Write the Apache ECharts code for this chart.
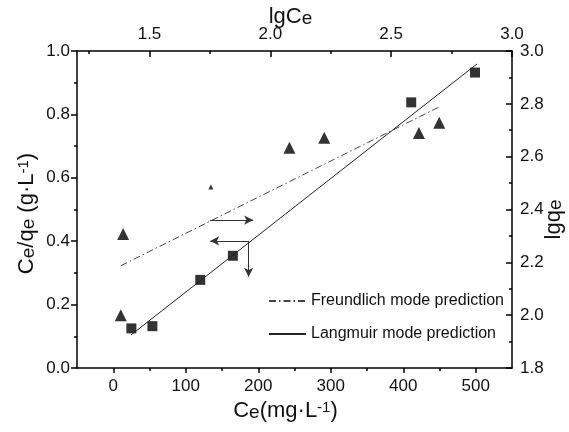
<!DOCTYPE html>
<html>
<head>
<meta charset="utf-8">
<script src="https://cdn.jsdelivr.net/npm/echarts@6/dist/echarts.min.js"></script>
<style>
    html, body { margin: 0; padding: 0; background: #fff; }
    #chart { width: 569px; height: 432px; }
</style>
</head>
<body>
<div id="chart"></div>
<script>
// Langmuir data: Ce vs Ce/qe (bottom / left axes)
var ceValues = [25, 54, 120, 165, 411, 499];
var ceQeValues = [0.125, 0.132, 0.278, 0.354, 0.838, 0.932];
// Freundlich data: lgCe vs lgqe (top / right axes)
var lgCeValues = [1.391, 1.381, 2.079, 2.223, 2.615, 2.699];
var lgQeValues = [2.307, 2.000, 2.634, 2.672, 2.690, 2.728];
var lgCeSmall = [1.754];
var lgQeSmall = [2.485];
// fitted lines, end points
var langmuirFitX = [24.4, 501.7];
var langmuirFitY = [0.104, 0.959];
var freundlichFitX = [1.381, 2.696];
var freundlichFitY = [2.187, 2.787];
// ticks
var bottomTicks = [0, 100, 200, 300, 400, 500];
var bottomMinorTicks = [50, 150, 250, 350, 450];
var topTicks = [1.5, 2.0, 2.5, 3.0];
var topMinorTicks = [1.25, 1.75, 2.25, 2.75];
// arrows
var arrowRight = [[1.750, 2.360], [1.929, 2.360]];
var arrowLeft = [[186.7, 0.401], [133.7, 0.401]];
var arrowDown = [[186.7, 0.401], [186.7, 0.288]];

var FONT = '"Liberation Sans", Arial, sans-serif';
var INK = '#111';

function zip(xs, ys) {
    return xs.map(function (x, i) { return [x, ys[i]]; });
}

var titleRich = {
    sub: { fontSize: 19, lineHeight: 19, padding: [16, 0, 0, 0], verticalAlign: 'bottom', fontFamily: FONT, color: INK },
    sup: { fontSize: 15, lineHeight: 15, verticalAlign: 'top', fontFamily: FONT, color: INK }
};

function nameStyle(pad) {
    return { fontSize: 22, lineHeight: 22, fontFamily: FONT, color: INK, rich: titleRich, padding: pad || 0 };
}

var axisLineStyle = { show: true, onZero: false, lineStyle: { color: '#000', width: 1.5 } };
var hiddenLine = { show: false, onZero: false };
var labelStyle = { fontSize: 17, fontFamily: FONT, color: INK };

function fmt1(v) { return Number(v).toFixed(1); }

var chart = echarts.init(document.getElementById('chart'), null, { renderer: 'canvas' });

var option = {
    animation: false,
    backgroundColor: '#fff',
    grid: { left: 77, right: 57, top: 51, bottom: 64, outerBoundsMode: 'none', containLabel: false },
    legend: {
        data: ['Freundlich mode prediction', 'Langmuir mode prediction'],
        orient: 'vertical',
        left: 263,
        top: 288,
        itemWidth: 37,
        itemHeight: 12,
        itemGap: 17,
        itemStyle: { opacity: 0 },
        textStyle: { fontSize: 16, color: INK, fontFamily: FONT }
    },
    xAxis: [{
        type: 'value', position: 'bottom', min: -50, max: 550,
        name: 'C{sub|e}(mg·L{sup|-1})', nameLocation: 'middle', nameGap: 32, nameMoveOverlap: false,
        nameTextStyle: nameStyle([0, 18, 0, 0]),
        axisLine: axisLineStyle,
        axisTick: { show: true, length: 5, customValues: bottomTicks, lineStyle: { color: '#000', width: 1.5 } },
        axisLabel: Object.assign({ margin: 10, customValues: bottomTicks }, labelStyle),
        splitLine: { show: false }
    }, {
        type: 'value', position: 'bottom', min: -50, max: 550,
        axisLine: hiddenLine,
        axisTick: { show: true, length: 3, customValues: bottomMinorTicks, lineStyle: { color: '#000', width: 1.5 } },
        axisLabel: { show: false },
        splitLine: { show: false }
    }, {
        type: 'value', position: 'top', min: 1.2, max: 3.0,
        name: 'lgC{sub|e}', nameLocation: 'middle', nameGap: 23, nameMoveOverlap: false,
        nameTextStyle: nameStyle([0, 8, 0, 0]),
        axisLine: axisLineStyle,
        axisTick: { show: true, inside: true, length: 6, customValues: topTicks, lineStyle: { color: '#000', width: 1.5 } },
        axisLabel: Object.assign({ margin: 8, customValues: topTicks, formatter: fmt1 }, labelStyle),
        splitLine: { show: false }
    }, {
        type: 'value', position: 'top', min: 1.2, max: 3.0,
        axisLine: hiddenLine,
        axisTick: { show: true, inside: true, length: 3, customValues: topMinorTicks, lineStyle: { color: '#000', width: 1.5 } },
        axisLabel: { show: false },
        splitLine: { show: false }
    }],
    yAxis: [{
        type: 'value', position: 'left', min: 0, max: 1, interval: 0.2,
        name: 'C{sub|e}/q{sub|e} (g·L{sup|-1})', nameLocation: 'middle', nameGap: 39, nameRotate: 90, nameMoveOverlap: false,
        nameTextStyle: nameStyle([0, 8, 0, 0]),
        axisLine: axisLineStyle,
        axisTick: { show: true, length: 6, lineStyle: { color: '#000', width: 1.5 } },
        minorTick: { show: true, splitNumber: 2, length: 3, lineStyle: { color: '#000', width: 1.5 } },
        axisLabel: Object.assign({ margin: 7, formatter: fmt1 }, labelStyle),
        splitLine: { show: false }
    }, {
        type: 'value', position: 'right', min: 1.8, max: 3.0, interval: 0.2,
        name: 'lgq{sub|e}', nameLocation: 'middle', nameGap: 31, nameRotate: 90, nameMoveOverlap: false,
        nameTextStyle: nameStyle([0, 20, 0, 0]),
        axisLine: axisLineStyle,
        axisTick: { show: true, inside: true, length: 6, lineStyle: { color: '#000', width: 1.5 } },
        minorTick: { show: true, splitNumber: 2, length: 3, lineStyle: { color: '#000', width: 1.5 } },
        axisLabel: Object.assign({ margin: 8, formatter: fmt1 }, labelStyle),
        splitLine: { show: false }
    }],
    series: [{
        name: 'Langmuir data',
        type: 'scatter', xAxisIndex: 0, yAxisIndex: 0,
        symbol: 'rect', symbolSize: 10,
        itemStyle: { color: '#000' },
        data: zip(ceValues, ceQeValues)
    }, {
        name: 'Freundlich data',
        type: 'scatter', xAxisIndex: 2, yAxisIndex: 1,
        symbol: 'triangle', symbolSize: 12,
        itemStyle: { color: '#000' },
        data: zip(lgCeValues, lgQeValues)
    }, {
        name: 'Freundlich data small',
        type: 'scatter', xAxisIndex: 2, yAxisIndex: 1,
        symbol: 'triangle', symbolSize: 5,
        itemStyle: { color: '#000' },
        data: zip(lgCeSmall, lgQeSmall)
    }, {
        name: 'Freundlich mode prediction',
        type: 'line', xAxisIndex: 2, yAxisIndex: 1,
        symbol: 'none',
        lineStyle: { color: '#444', width: 1, type: [7, 3, 1.5, 3] },
        itemStyle: { color: '#444' },
        data: zip(freundlichFitX, freundlichFitY),
        markLine: {
            silent: true, symbol: ['none', 'arrow'], symbolSize: [7, 9],
            label: { show: false },
            lineStyle: { color: '#333', width: 1, type: 'solid' },
            data: [[{ coord: arrowRight[0] }, { coord: arrowRight[1] }]]
        }
    }, {
        name: 'Langmuir mode prediction',
        type: 'line', xAxisIndex: 0, yAxisIndex: 0,
        symbol: 'none',
        lineStyle: { color: '#222', width: 1, type: 'solid' },
        itemStyle: { color: '#222' },
        data: zip(langmuirFitX, langmuirFitY),
        markLine: {
            silent: true, symbol: ['none', 'arrow'], symbolSize: [7, 9],
            label: { show: false },
            lineStyle: { color: '#333', width: 1, type: 'solid' },
            data: [
                [{ coord: arrowLeft[0] }, { coord: arrowLeft[1] }],
                [{ coord: arrowDown[0] }, { coord: arrowDown[1] }]
            ]
        }
    }]
};

chart.setOption(option);
</script>
</body>
</html>
